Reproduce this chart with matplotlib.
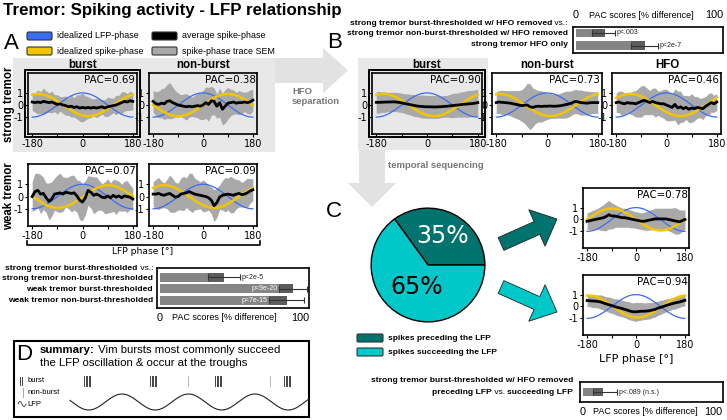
import numpy as np
import matplotlib
matplotlib.use('Agg')
import matplotlib.pyplot as plt
from matplotlib.patches import Rectangle, FancyArrow, FancyBboxPatch, Polygon

plt.rcParams['axes.unicode_minus'] = False

W, H = 727, 420
fig = plt.figure(figsize=(W / 100, H / 100), dpi=100)

SANS = 'Liberation Sans'
DJ = 'DejaVu Sans'
BLUE = '#3a6cf4'
YEL = '#f2c500'
SEMC = '#a9a9a9'
BG = '#e8e8e8'
ARR = '#e2e2e2'
TEAL = '#00736f'
CYAN = '#00c8c8'
BARC = '#858585'
BARD = '#5c5c5c'
ERRC = '#333333'

# ---------------- data ----------------
phase = np.arange(-180, 181, 10)

A_sb_mean = [0.25, 0.2, 0.25, 0.2, 0.3, 0.25, 0.2, 0.25, 0.15, 0.05, 0.1, 0.0, -0.05, -0.15, -0.1, -0.2, -0.15, -0.25, -0.2,
             -0.25, -0.2, -0.25, -0.2, -0.25, -0.2, -0.15, -0.25, -0.15, -0.1, -0.05, 0.0, 0.1, 0.2, 0.3, 0.25, 0.35, 0.3]
A_sb_sem = [0.7, 0.8, 1.0, 0.9, 1.1, 0.9, 0.8, 0.9, 0.7, 0.8, 0.6, 0.7, 0.8, 0.7, 0.9, 0.8, 1.0, 1.1, 1.2,
            1.0, 0.9, 0.8, 0.7, 0.8, 0.7, 0.6, 0.7, 0.8, 0.7, 0.6, 0.8, 0.7, 0.9, 0.8, 0.7, 0.8, 0.7]
A_snb_mean = [0.3, 0.1, 0.05, 0.15, 0.1, 0.3, 0.35, 0.2, 0.1, 0.0, -0.05, -0.1, -0.15, -0.1, -0.15, -0.1, -0.05, -0.1, 0.0,
              0.2, 0.05, 0.35, 0.3, -0.1, 0.2, -0.35, -0.1, 0.15, 0.2, 0.25, 0.15, 0.2, 0.2, 0.25, 0.2, 0.25, 0.4]
A_snb_sem = [0.9, 1.0, 1.1, 1.2, 1.3, 1.4, 1.5, 1.3, 1.1, 1.0, 0.9, 1.0, 1.1, 0.9, 0.8, 0.9, 1.0, 1.1, 1.2,
             1.3, 1.4, 1.2, 1.1, 1.0, 1.2, 1.3, 1.4, 1.3, 1.1, 1.0, 0.9, 1.0, 0.9, 0.8, 0.9, 1.0, 0.9]
A_wb_mean = [0.0, 0.4, 0.5, 0.2, 0.25, -0.1, -0.4, -0.2, 0.2, 0.25, 0.3, 0.2, 0.35, 0.3, 0.25, 0.3, 0.05, -0.3, -0.45,
             -0.1, 0.5, 0.35, 0.1, 0.2, 0.1, -0.05, -0.1, 0.05, -0.1, 0.1, -0.05, 0.05, -0.1, 0.05, 0.0, -0.05, -0.2]
A_wb_sem = [1.2, 1.5, 1.4, 1.6, 1.3, 1.2, 1.5, 1.4, 1.3, 1.5, 1.6, 1.4, 1.2, 1.3, 1.5, 1.4, 1.3, 1.6, 1.5,
            1.4, 1.2, 1.3, 1.5, 1.4, 1.2, 1.1, 1.3, 1.4, 1.2, 1.3, 1.4, 1.2, 1.1, 1.2, 1.3, 1.0, 0.9]
A_wnb_mean = [0.2, 0.2, 0.25, 0.15, 0.1, 0.2, 0.25, 0.1, -0.05, 0.0, 0.2, 0.25, 0.3, 0.4, 0.3, 0.2, 0.15, 0.1, 0.05,
              0.0, -0.1, -0.3, -0.75, -0.5, -0.05, 0.1, 0.15, 0.2, 0.15, 0.1, 0.2, 0.25, 0.15, 0.2, 0.3, 0.45, 0.55]
A_wnb_sem = [1.0, 1.2, 1.3, 1.1, 1.0, 1.2, 1.5, 1.4, 1.2, 1.1, 1.3, 1.4, 1.2, 1.5, 1.6, 1.3, 1.2, 1.1, 1.3,
             1.2, 1.0, 1.1, 1.3, 1.2, 1.0, 1.2, 1.4, 1.3, 1.5, 1.4, 1.2, 1.1, 1.0, 1.1, 1.2, 1.0, 0.9]
B_b_mean = [0.22, 0.22, 0.23, 0.24, 0.25, 0.25, 0.26, 0.25, 0.22, 0.18, 0.13, 0.08, 0.03, -0.02, -0.06, -0.1, -0.12, -0.14, -0.15,
            -0.15, -0.16, -0.16, -0.15, -0.14, -0.12, -0.1, -0.08, -0.05, -0.02, 0.0, 0.03, 0.06, 0.08, 0.1, 0.12, 0.15, 0.2]
B_b_sem = [0.9, 0.9, 0.85, 0.85, 0.8, 0.8, 0.8, 0.8, 0.8, 0.8, 0.8, 0.85, 0.85, 0.9, 0.9, 0.9, 0.95, 0.95, 0.95,
           0.95, 0.95, 0.95, 0.95, 0.9, 0.9, 0.9, 0.95, 1.0, 1.0, 1.0, 1.05, 1.05, 1.1, 1.1, 1.1, 1.1, 1.1]
B_nb_mean = [0.2, 0.25, 0.22, 0.2, 0.18, 0.15, 0.1, 0.05, 0.0, -0.05, -0.02, 0.0, -0.15, -0.2, -0.12, -0.1, -0.12, -0.1, -0.1,
             -0.08, -0.1, -0.1, -0.08, -0.05, 0.0, 0.05, 0.1, 0.2, 0.3, 0.25, 0.2, 0.18, 0.15, 0.18, 0.2, 0.2, 0.2]
B_nb_sem = [0.9, 0.95, 1.0, 1.0, 1.0, 1.05, 1.1, 1.15, 1.2, 1.3, 1.5, 1.8, 1.9, 1.6, 1.4, 1.3, 1.3, 1.2, 1.1,
            1.05, 1.0, 1.0, 1.0, 1.05, 1.1, 1.1, 1.05, 1.0, 1.0, 1.0, 1.05, 1.0, 1.0, 0.95, 0.9, 0.9, 0.9]
B_h_mean = [0.2, 0.25, 0.15, 0.1, 0.2, 0.15, 0.15, 0.1, 0.2, 0.3, 0.4, 0.3, 0.2, 0.3, 0.2, 0.15, 0.1, 0.1, 0.0,
            -0.1, -0.2, 0.05, -0.25, -0.15, -0.3, -0.2, -0.35, -0.25, -0.3, -0.2, -0.25, -0.3, -0.1, 0.05, 0.2, 0.1, 0.25]
B_h_sem = [0.8, 0.9, 1.0, 0.9, 0.8, 0.9, 1.0, 1.1, 1.2, 1.3, 1.2, 1.1, 1.0, 1.1, 1.2, 1.0, 1.1, 1.2, 1.3,
           1.2, 1.1, 1.3, 1.4, 1.3, 1.1, 1.0, 1.1, 1.2, 1.0, 0.9, 0.8, 0.9, 0.8, 0.9, 0.8, 0.7, 0.7]
C_pre_mean = [-0.15, -0.1, -0.05, 0.0, 0.05, 0.1, 0.15, 0.25, 0.4, 0.3, 0.3, 0.25, 0.2, 0.15, 0.15, 0.1, 0.05, 0.0, -0.05,
              -0.1, -0.15, -0.15, -0.1, -0.05, 0.0, 0.05, 0.05, 0.05, 0.05, 0.05, 0.0, -0.05, -0.1, -0.15, -0.2, -0.1, 0.0]
C_pre_sem = [0.7, 0.75, 0.8, 0.85, 0.9, 1.0, 1.1, 1.2, 1.2, 1.1, 1.0, 0.9, 0.85, 0.8, 0.8, 0.75, 0.75, 0.7, 0.7,
             0.7, 0.7, 0.75, 0.8, 0.85, 0.85, 0.9, 0.9, 0.9, 0.9, 0.9, 0.95, 1.0, 1.1, 1.1, 1.0, 0.9, 0.8]
C_suc_mean = [0.5, 0.48, 0.46, 0.45, 0.42, 0.38, 0.3, 0.22, 0.15, 0.08, 0.0, -0.07, -0.12, -0.18, -0.25, -0.32, -0.4, -0.45, -0.45,
              -0.42, -0.4, -0.4, -0.38, -0.35, -0.3, -0.25, -0.15, -0.08, 0.0, 0.08, 0.15, 0.22, 0.28, 0.33, 0.38, 0.45, 0.52]
C_suc_sem = [0.5, 0.5, 0.55, 0.55, 0.55, 0.6, 0.6, 0.6, 0.65, 0.65, 0.65, 0.7, 0.7, 0.7, 0.7, 0.75, 0.75, 0.75, 0.8,
             0.75, 0.75, 0.7, 0.7, 0.7, 0.65, 0.65, 0.6, 0.6, 0.55, 0.55, 0.5, 0.5, 0.5, 0.5, 0.45, 0.45, 0.45]

# idealized spike-phase: peak location (deg) and amplitude; PAC values
spike_peak = {'A_sb': -160, 'A_snb': 90, 'A_wb': 92, 'A_wnb': -140, 'B_b': -155, 'B_nb': -168, 'B_h': -130,
              'C_pre': -90, 'C_suc': -175}
spike_amp = 0.92
pac = {'A_sb': 0.69, 'A_snb': 0.38, 'A_wb': 0.07, 'A_wnb': 0.09, 'B_b': 0.90, 'B_nb': 0.73, 'B_h': 0.46,
       'C_pre': 0.78, 'C_suc': 0.94}

A_bar_labels = ['strong tremor non-burst-thresholded', 'weak tremor burst-thresholded',
                'weak tremor non-burst-thresholded']
A_bar_vals = [46, 95, 91]
A_bar_lo = [34, 85, 78]
A_bar_hi = [57, 105, 103]
A_bar_p = ['p<2e-5', 'p<9e-20', 'p<7e-15']

B_bar_labels = ['strong tremor non-burst-thresholded w/ HFO removed', 'strong tremor HFO only']
B_bar_vals = [21, 50]
B_bar_lo = [12, 40]
B_bar_hi = [28, 59]
B_bar_p = ['p<.003', 'p<2e-7']

C_bar_vals = [15.6]
C_bar_lo = [8]
C_bar_hi = [26.5]
C_bar_p = ['p<.089 (n.s.)']

pie_vals = [35, 65]
pie_labels = ['spikes preceding the LFP', 'spikes succeeding the LFP']

D_burst_onsets = [84, 150, 215, 284]
D_nonburst = [188, 270]

# ---------------- helpers ----------------
def px_axes(x0, y0, x1, y1, **kw):
    return fig.add_axes([x0 / W, 1 - y1 / H, (x1 - x0) / W, (y1 - y0) / H], **kw)


ov = fig.add_axes([0, 0, 1, 1])
ov.set_xlim(0, W)
ov.set_ylim(H, 0)
ov.axis('off')


def T(x, y, s, size, weight='normal', ha='left', va='center', family=SANS, color='k', **kw):
    return ov.text(x, y, s, fontsize=size, fontweight=weight, ha=ha, va=va, family=family, color=color, **kw)


def mixed_right(x, y, parts, size):
    prev = None
    for s, w in reversed(parts):
        if prev is None:
            prev = ov.text(x, y, s, fontsize=size, fontweight=w, ha='right', va='baseline', family=SANS)
        else:
            prev = ov.annotate(s, xy=(0, 0), xycoords=prev, fontsize=size, fontweight=w,
                               ha='right', va='bottom', family=SANS)
    return prev


xs = np.linspace(-180, 180, 361)


def phase_panel(box, key, mean, sem, face='white', double=False):
    ax = px_axes(*box)
    ax.set_facecolor(face)
    m = np.asarray(mean)
    s = np.asarray(sem)
    ax.fill_between(phase, m - s, m + s, color=SEMC, lw=0, zorder=1)
    ax.plot(xs, np.cos(np.radians(xs)), color=BLUE, lw=0.9, zorder=2)
    ax.plot(xs, spike_amp * np.cos(np.radians(xs - spike_peak[key])), color=YEL, lw=1.8, zorder=3)
    ax.plot(phase, m, color='k', lw=2.0, zorder=4)
    ax.set_xlim(-195, 195)
    ax.set_ylim(-2.4, 2.65)
    ax.set_xticks([-180, 0, 180])
    ax.set_xticklabels(['-180', '0', '180'])
    ax.set_xticks([-90, 90], minor=True)
    ax.set_yticks([-1, 0, 1])
    ax.set_yticklabels(['-1', '0', '1'])
    ax.tick_params(which='both', direction='out', length=2.5, width=0.8, labelsize=7, pad=1)
    for lab in ax.get_xticklabels() + ax.get_yticklabels():
        lab.set_family(DJ)
    for sp in ax.spines.values():
        sp.set_linewidth(1.2)
    ax.text(0.985, 0.96, f'PAC={pac[key]:.2f}', transform=ax.transAxes, ha='right', va='top',
            fontsize=7.4, family=DJ)
    if double:
        x0, y0, x1, y1 = box
        ov.add_patch(Rectangle((x0 - 3, y0 - 3), x1 - x0 + 6, y1 - y0 + 6, fill=False, ec='k', lw=1.4))
    return ax


def bar_panel(box, vals, lo, hi, ptxt, inside, xlim, ylim, bar_h):
    ax = px_axes(*box)
    v = np.asarray(vals, float)
    l = np.asarray(lo, float)
    h = np.asarray(hi, float)
    y = np.arange(len(v))
    ax.barh(y, v, height=bar_h, color=BARC, lw=0)
    ax.barh(y, v - l, left=l, height=bar_h, color=BARD, lw=0)
    ax.errorbar(v, y, xerr=[v - l, h - v], fmt='none', ecolor=ERRC, elinewidth=0.8, capsize=2.2, capthick=0.8)
    for i in range(len(v)):
        if inside[i]:
            ax.text(l[i] - 1, y[i], ptxt[i], ha='right', va='center', fontsize=5, color='white', family=SANS)
        else:
            ax.text(h[i] + 1, y[i], ptxt[i], ha='left', va='center', fontsize=5, color='#222', family=SANS)
    ax.set_xlim(*xlim)
    ax.set_ylim(*ylim)
    ax.set_xticks([])
    ax.set_yticks([])
    for sp in ax.spines.values():
        sp.set_linewidth(1.2)
    return ax


def pac_axis_labels(ax, yfrac, mid):
    tr = ax.get_xaxis_transform()
    ax.text(0, yfrac, '0', transform=tr, ha='center', va='center', fontsize=7.8, family=SANS)
    ax.text(100, yfrac, '100', transform=tr, ha='center', va='center', fontsize=7.8, family=SANS)
    ax.text(mid, yfrac, 'PAC scores [% difference]', transform=tr, ha='center', va='center',
            fontsize=6.5, family=SANS)


# ---------------- background shapes ----------------
ov.add_patch(Rectangle((13, 58), 262, 94, color=BG, lw=0))
ov.add_patch(Polygon([(275, 58), (323, 58), (323, 48), (348, 70.5), (323, 93), (323, 83), (275, 83)],
                     closed=True, color=ARR, lw=0))
ov.add_patch(Rectangle((358, 58), 130, 92, color=BG, lw=0))
ov.add_patch(Polygon([(359, 150), (385, 150), (385, 183), (396, 183), (372, 207), (348, 183), (359, 183)],
                     closed=True, color=ARR, lw=0))

# ---------------- title & panel letters ----------------
T(3, 15, 'Tremor: Spiking activity - LFP relationship', 12.2, 'bold', va='baseline')
T(4, 49, 'A', 16, va='baseline')
T(327, 48, 'B', 16, va='baseline')
T(326, 217, 'C', 16, va='baseline')
T(16, 360, 'D', 16, va='baseline')

# ---------------- legend A ----------------
leg = [(27, 32, BLUE, 'idealized LFP-phase'), (27, 47, YEL, 'idealized spike-phase'),
       (152, 32, 'black', 'average spike-phase'), (152, 47, SEMC, 'spike-phase trace SEM')]
for x, y, c, s in leg:
    ov.add_patch(FancyBboxPatch((x, y), 25, 8, boxstyle='round,pad=0,rounding_size=1.5', fc=c, ec='#333', lw=0.8))
    T(x + 30, y + 4, s, 6.4)

# ---------------- panel A ----------------
T(83, 65, 'burst', 8.3, 'bold', ha='center')
T(203, 65, 'non-burst', 8.3, 'bold', ha='center')
T(9, 104, 'strong tremor', 8.3, 'bold', ha='center', rotation=90)
T(9, 196, 'weak tremor', 8.3, 'bold', ha='center', rotation=90)

phase_panel((28, 73, 137, 134), 'A_sb', A_sb_mean, A_sb_sem, face='none', double=True)
phase_panel((149, 73, 257, 134), 'A_snb', A_snb_mean, A_snb_sem, face='none')
phase_panel((28, 164, 137, 226), 'A_wb', A_wb_mean, A_wb_sem)
phase_panel((149, 164, 257, 226), 'A_wnb', A_wnb_mean, A_wnb_sem)

ov.plot([27, 27, 260, 260], [241, 245, 245, 241], color='k', lw=1.2)
T(143, 252, 'LFP phase [°]', 6.6, family=DJ, ha='center')

T(292, 96.5, 'HFO\nseparation', 6.8, 'bold', color='#777', linespacing=1.05)
T(388, 165, 'temporal sequencing', 6.8, 'bold', color='#777')

mixed_right(153, 269.5, [('strong tremor burst-thresholded', 'bold'), (' vs.:', 'normal')], 6.1)
for i, lab in enumerate(A_bar_labels):
    T(153, 278 + 11.3 * i, lab, 6.1, 'bold', ha='right')
axA = bar_panel((157, 268, 309, 308), A_bar_vals, A_bar_lo, A_bar_hi, A_bar_p, [False, True, True],
                (-2.1, 106.4), (2.7, -0.84), 0.8)
pac_axis_labels(axA, -0.25, 46)

# ---------------- panel B ----------------
T(427, 65, 'burst', 8.3, 'bold', ha='center')
T(547, 65, 'non-burst', 8.3, 'bold', ha='center')
T(667, 65, 'HFO', 8.3, 'bold', ha='center')
phase_panel((372, 73, 482, 134), 'B_b', B_b_mean, B_b_sem, face='none', double=True)
phase_panel((492, 73, 602, 134), 'B_nb', B_nb_mean, B_nb_sem)
phase_panel((612, 73, 721, 134), 'B_h', B_h_mean, B_h_sem)

mixed_right(568, 25, [('strong tremor burst-thresholded w/ HFO removed', 'bold'), (' vs.:', 'normal')], 6.1)
for i, lab in enumerate(B_bar_labels):
    T(568, 33.3 + 11 * i, lab, 6.1, 'bold', ha='right')
axB = bar_panel((573, 27, 723, 53), B_bar_vals, B_bar_lo, B_bar_hi, B_bar_p, [False, False],
                (-2, 106), (1.6, -0.48), 0.65)
pac_axis_labels(axB, 1.46, 47)

# ---------------- panel C ----------------
axP = px_axes(370, 207, 486, 323)
axP.pie(pie_vals, colors=[TEAL, CYAN], startangle=0, counterclock=True,
        wedgeprops=dict(edgecolor='k', linewidth=1.0))
axP.set_xlim(-1.02, 1.02)
axP.set_ylim(-1.02, 1.02)
ang = 0
for v, d, c in zip(pie_vals, [0.57, 0.44], ['white', 'black']):
    mid = np.radians(ang + v * 3.6 / 2)
    axP.text(d * np.cos(mid), d * np.sin(mid), f'{v}%', ha='center', va='center', fontsize=17,
             family=DJ, color=c)
    ang += v * 3.6

for (y, c), s in zip([(334, TEAL), (348, CYAN)], pie_labels):
    ov.add_patch(FancyBboxPatch((357, y), 26, 8, boxstyle='round,pad=0,rounding_size=1.2', fc=c, ec='#333', lw=0.8))
    T(388, y + 4, s, 6.05, 'bold')

ov.add_patch(FancyArrow(501, 244, 56, -25, width=14, head_width=40, head_length=22,
                        length_includes_head=True, fc=TEAL, ec='#222', lw=0.6))
ov.add_patch(FancyArrow(501, 287, 56, 25, width=14, head_width=40, head_length=22,
                        length_includes_head=True, fc=CYAN, ec='#222', lw=0.6))

phase_panel((583, 188, 689, 248), 'C_pre', C_pre_mean, C_pre_sem)
phase_panel((583, 275, 689, 335), 'C_suc', C_suc_mean, C_suc_sem)
T(636, 359, 'LFP phase [°]', 8, family=DJ, ha='center')

T(573, 381, 'strong tremor burst-thresholded w/ HFO removed', 6.1, 'bold', ha='right')
mixed_right(573, 394, [('preceding LFP', 'bold'), (' vs. ', 'normal'), ('succeeding LFP', 'bold')], 6.1)
axC = bar_panel((580, 382, 723, 402), C_bar_vals, C_bar_lo, C_bar_hi, C_bar_p, [False],
                (-2.3, 107.7), (0.6, -0.6), 0.45)
pac_axis_labels(axC, -0.49, 47.7)

# ---------------- panel D ----------------
ov.add_patch(Rectangle((13.5, 341), 295, 76, fill=False, ec='k', lw=1.5))
t1 = ov.text(40, 353, 'summary:', fontsize=8.2, fontweight='bold', family=SANS, va='baseline')
ov.annotate(' Vim bursts most commonly succeed', xy=(1, 0), xycoords=t1, fontsize=8.2, family=SANS,
            ha='left', va='bottom')
T(40, 366, 'the LFP oscillation & occur at the troughs', 8.2, va='baseline')

for x in [20, 21.8]:
    ov.plot([x, x], [377, 385], color='#444', lw=0.7)
T(28, 381, 'burst', 5.5)
ov.plot([23, 23], [388, 397], color='#999', lw=0.6)
T(28, 392, 'non-burst', 5.5)
xi = np.linspace(18, 26, 40)
ov.plot(xi, 404 - 2.5 * np.sin(2 * np.pi * (xi - 18) / 8), color='#333', lw=0.6)
T(27, 404, 'LFP', 5.5)

for on in D_burst_onsets:
    for k in range(5):
        ov.plot([on + 1.6 * k] * 2, [376, 386], color='#444', lw=0.7)
for x in D_nonburst:
    ov.plot([x, x], [376, 386], color='#aaa', lw=0.6)
xw = np.linspace(70, 309, 400)
ov.plot(xw, 402 - 8 * np.cos(2 * np.pi * (xw - 122) / 66.5), color='#222', lw=0.8)

fig.savefig('out.png', dpi=100)
